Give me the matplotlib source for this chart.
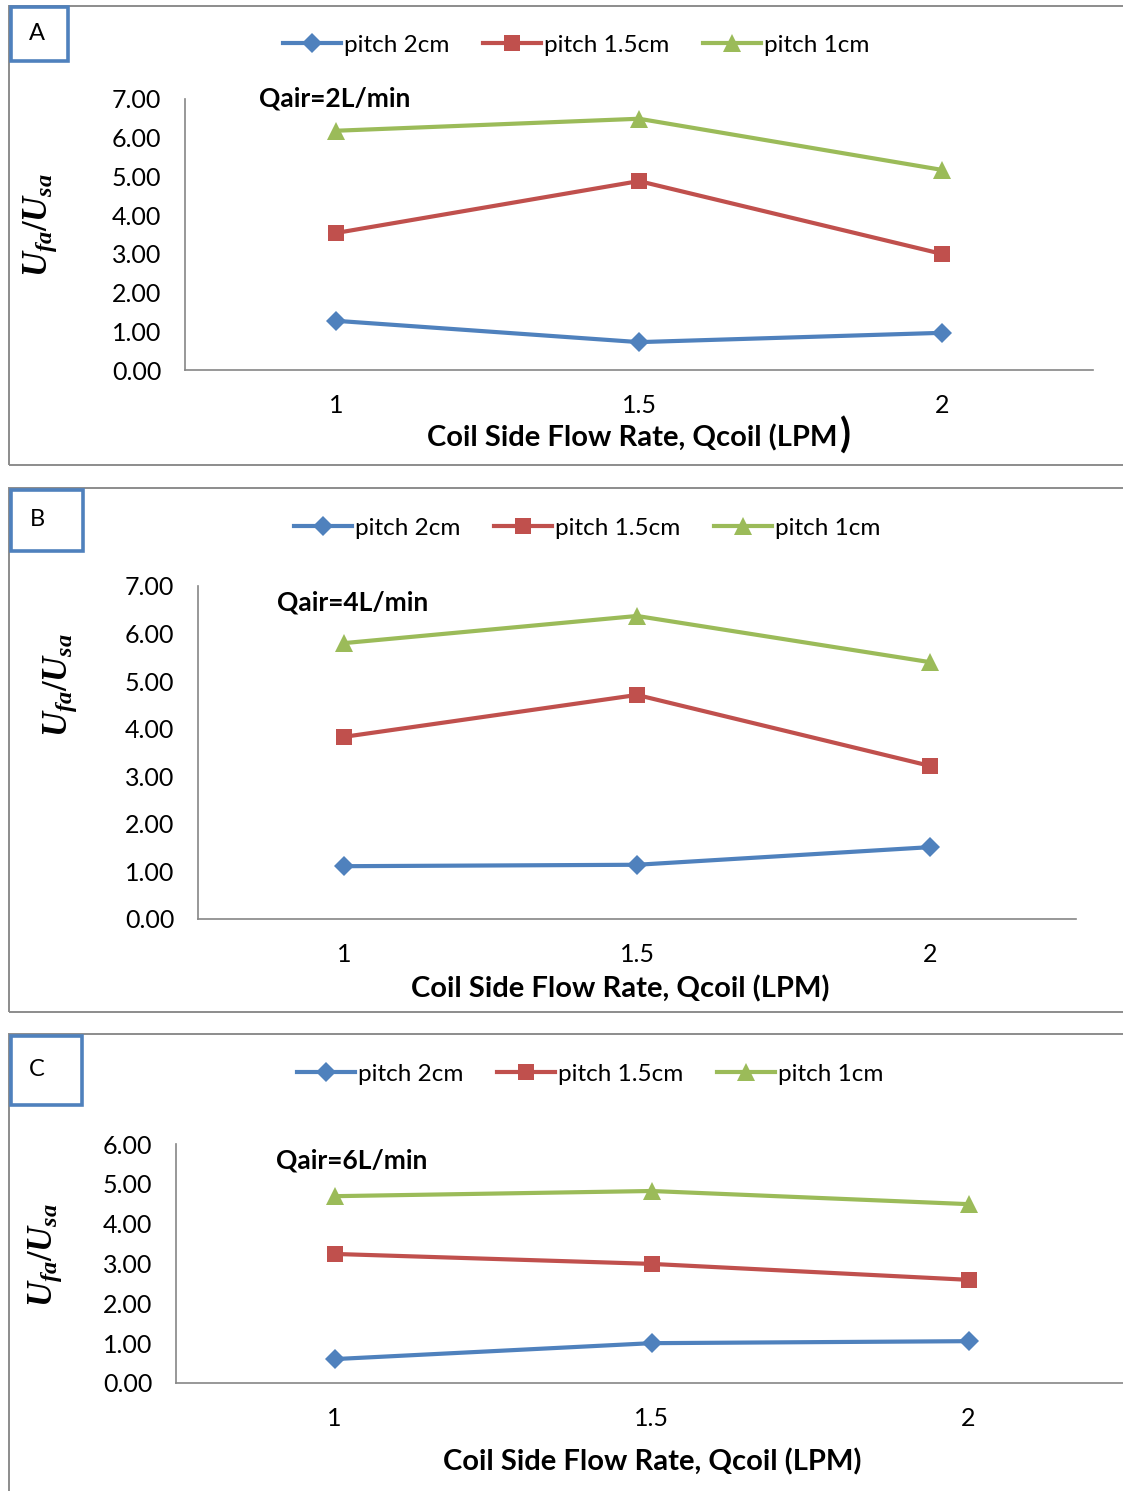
import matplotlib
matplotlib.use("Agg")
import matplotlib.pyplot as plt
from matplotlib.patches import Rectangle

plt.rcParams['font.family'] = ['Lato', 'DejaVu Sans']
plt.rcParams['mathtext.fontset'] = 'custom'
plt.rcParams['mathtext.it'] = 'Liberation Serif:bold:italic'
plt.rcParams['mathtext.rm'] = 'Liberation Serif:bold'
plt.rcParams['mathtext.bf'] = 'Liberation Serif:bold'

# ---------------- data ----------------
categories = ["1", "1.5", "2"]
series_names = ["pitch 2cm", "pitch 1.5cm", "pitch 1cm"]

a_pitch2 = [1.27, 0.72, 0.96]
a_pitch15 = [3.54, 4.88, 3.00]
a_pitch1 = [6.18, 6.49, 5.17]

b_pitch2 = [1.11, 1.14, 1.51]
b_pitch15 = [3.83, 4.71, 3.22]
b_pitch1 = [5.80, 6.37, 5.40]

c_pitch2 = [0.60, 1.00, 1.05]
c_pitch15 = [3.24, 2.99, 2.59]
c_pitch1 = [4.69, 4.82, 4.49]

panel_letters = ["A", "B", "C"]
qair_labels = ["Qair=2L/min", "Qair=4L/min", "Qair=6L/min"]
y_max = [7, 7, 6]
xlabel_text = "Coil Side Flow Rate, Qcoil (LPM)"
ylabel_text = r"$U_{fa}/U_{sa}$"

# ---------------- style ----------------
W, H = 1123, 1491
colors = ["#4F81BD", "#C0504D", "#9BBB59"]
markers = ["D", "s", "^"]
msizes = [10.5, 12, 13]
axis_gray = "#868686"
frame_gray = "#8C8C8C"

fig = plt.figure(figsize=(W / 100, H / 100), dpi=100)
renderer = fig.canvas.get_renderer()


def fx(x):
    return x / W


def fy(y):
    return 1 - y / H


def rect(x0, y0, x1, y1):
    return [fx(x0), fy(y1), (x1 - x0) / W, (y1 - y0) / H]


panels = [
    dict(frame=(9, 6, 1130, 465), box=(11, 7, 68, 61),
         ax=(185, 99, 1093, 370), legend=(576, 45), qair=(259, 98),
         xlab=(632, 438), ylab=(40, 225), data=[a_pitch2, a_pitch15, a_pitch1]),
    dict(frame=(9, 488, 1130, 1012), box=(11, 490, 83, 551),
         ax=(198, 586, 1076, 919), legend=(587, 528), qair=(277, 602),
         xlab=(620, 989), ylab=(60, 685), data=[b_pitch2, b_pitch15, b_pitch1]),
    dict(frame=(9, 1034, 1130, 1500), box=(11, 1036, 82, 1105),
         ax=(176, 1144, 1127, 1383), legend=(590, 1074), qair=(276, 1161),
         xlab=(652, 1462), ylab=(45, 1255), data=[c_pitch2, c_pitch15, c_pitch1]),
]

for i, p in enumerate(panels):
    x0, y0, x1, y1 = p["frame"]
    fig.patches.append(Rectangle((fx(x0), fy(y1)), (x1 - x0) / W, (y1 - y0) / H,
                                 transform=fig.transFigure, fill=False,
                                 edgecolor=frame_gray, lw=1.4, zorder=0))
    bx0, by0, bx1, by1 = p["box"]
    fig.patches.append(Rectangle((fx(bx0), fy(by1)), (bx1 - bx0) / W, (by1 - by0) / H,
                                 transform=fig.transFigure, fill=True, facecolor="white",
                                 edgecolor="#4F81BD", lw=2.6, zorder=5))
    fig.text(fx(bx0 + 26), fy((by0 + by1) / 2 - 1), panel_letters[i], fontsize=17,
             ha="center", va="center", zorder=6)

    ax = fig.add_axes(rect(*p["ax"]))
    xs = list(range(len(categories)))
    handles = []
    for j, vals in enumerate(p["data"]):
        h, = ax.plot(xs, vals, color=colors[j], lw=3, marker=markers[j],
                     markersize=msizes[j], markeredgewidth=0, label=series_names[j],
                     clip_on=False)
        handles.append(h)
    ax.set_xlim(-0.5, len(categories) - 0.5)
    ax.set_ylim(0, y_max[i])
    ax.set_yticks(range(0, y_max[i] + 1))
    ax.set_yticklabels([f"{v:.2f}" for v in range(0, y_max[i] + 1)], fontsize=18)
    ax.set_xticks(xs)
    ax.set_xticklabels(categories, fontsize=18)
    ax.tick_params(length=0)
    ax.tick_params(axis="y", pad=17)
    ax.tick_params(axis="x", pad=17)
    for s in ["top", "right"]:
        ax.spines[s].set_visible(False)
    for s in ["left", "bottom"]:
        ax.spines[s].set_color(axis_gray)
        ax.spines[s].set_linewidth(1.2)

    lx, ly = p["legend"]
    fig.legend(handles=handles, labels=series_names, loc="center",
               bbox_to_anchor=(fx(lx), fy(ly)), ncol=3, frameon=False,
               fontsize=17.5, handlelength=2.4, handletextpad=0.1,
               columnspacing=1.4, markerscale=0.95)

    qx, qy = p["qair"]
    fig.text(fx(qx), fy(qy), qair_labels[i], fontsize=19, fontweight="bold",
             ha="left", va="center")

    xx, xy = p["xlab"]
    if i == 0:
        t = fig.text(fx(427), fy(xy), xlabel_text[:-1], fontsize=21,
                     fontweight="bold", ha="left", va="center")
        bb = t.get_window_extent(renderer=renderer)
        fig.text(bb.x1 / W + 2 / W, fy(xy - 2), ")", fontsize=29, fontweight="bold",
                 ha="left", va="center")
    else:
        fig.text(fx(xx), fy(xy), xlabel_text, fontsize=21, fontweight="bold",
                 ha="center", va="center")

    yx, yy = p["ylab"]
    fig.text(fx(yx), fy(yy), ylabel_text, fontsize=25, rotation=90,
             ha="center", va="center")

fig.savefig("out.png", dpi=100)
